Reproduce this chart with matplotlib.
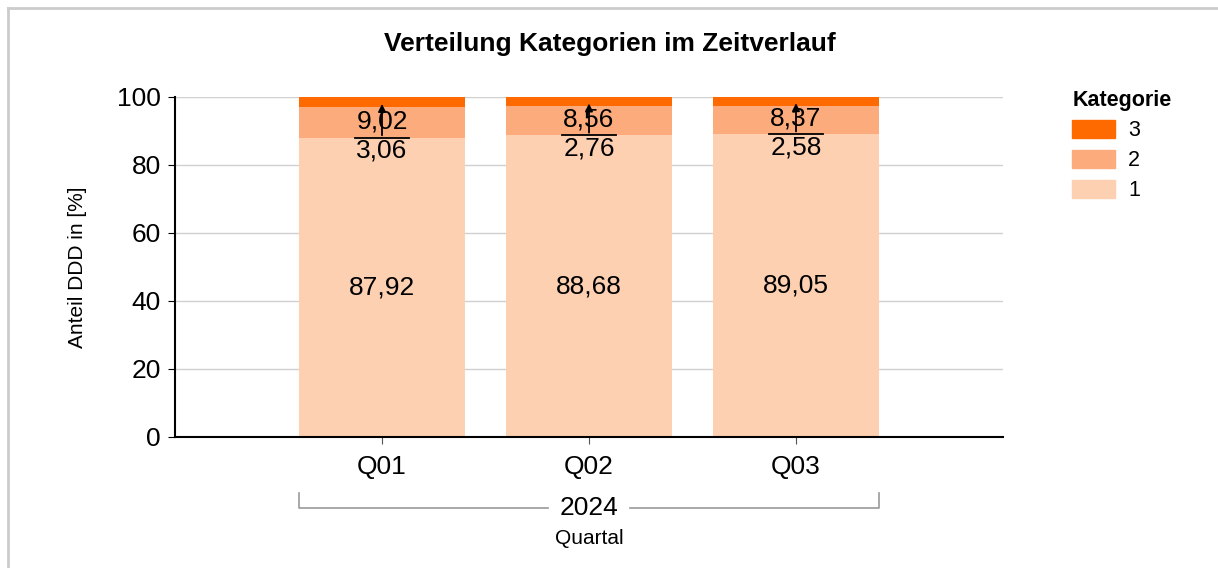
import matplotlib.pyplot as plt
from matplotlib.lines import Line2D
from matplotlib.patches import Patch

plt.rcParams['font.family'] = ['Liberation Sans', 'DejaVu Sans']

quartale = ['Q01', 'Q02', 'Q03']
jahr = '2024'
kat1 = [87.92, 88.68, 89.05]
kat2 = [9.02, 8.56, 8.37]
kat3 = [3.06, 2.76, 2.58]
farben = {'1': '#FDD0B2', '2': '#FCAC7C', '3': '#FF6A00'}

def fmt(v):
    return f'{v:.2f}'.replace('.', ',')

fig = plt.figure(figsize=(12.18, 5.68), dpi=100)
ax = fig.add_axes([175 / 1218, 1 - 437 / 568, 828 / 1218, 340 / 568])

x = list(range(len(quartale)))
b2 = [a for a in kat1]
b3 = [a + b for a, b in zip(kat1, kat2)]
ax.bar(x, kat1, width=0.8, color=farben['1'], zorder=2)
ax.bar(x, kat2, width=0.8, bottom=b2, color=farben['2'], zorder=2)
ax.bar(x, kat3, width=0.8, bottom=b3, color=farben['3'], zorder=2)

for i in x:
    ax.text(i, kat1[i] / 2, fmt(kat1[i]), ha='center', va='center', fontsize=19, zorder=4)
    ax.text(i, b2[i] + kat2[i] / 2 + 0.3, fmt(kat2[i]), ha='center', va='center', fontsize=19, zorder=4)
    # Kategorie 3 label below with leader line + arrow
    ax.text(i, b2[i] - 3.8, fmt(kat3[i]), ha='center', va='center', fontsize=19, zorder=4)
    ax.plot([i - 0.13, i + 0.13], [b2[i], b2[i]], color='black', lw=1.3, zorder=5)
    ax.annotate('', xy=(i, b3[i] + kat3[i] / 2 + 0.3), xytext=(i, b2[i]),
                arrowprops=dict(arrowstyle='-|>', color='black', lw=1.3, mutation_scale=11),
                zorder=5)

ax.set_xlim(-1, 3)
ax.set_ylim(0, 100)
ax.set_yticks([0, 20, 40, 60, 80, 100])
ax.set_xticks(x)
ax.set_xticklabels(quartale)
ax.tick_params(axis='both', labelsize=19, length=5)
ax.tick_params(axis='y', pad=5)
ax.tick_params(axis='x', pad=8, colors='#555555', labelcolor='black')
ax.grid(axis='y', color='#d0d0d0', lw=1, zorder=0)
for s in ['top', 'right']:
    ax.spines[s].set_visible(False)
ax.spines['left'].set_linewidth(1.5)
ax.spines['bottom'].set_linewidth(1.5)
ax.set_ylabel('Anteil DDD in [%]', fontsize=15, labelpad=22)

fig.text(610 / 1218, 1 - 44 / 568, 'Verteilung Kategorien im Zeitverlauf',
         ha='center', va='center', fontsize=19, fontweight='bold')

# Jahr-Klammer unter den Quartalen
trans = ax.get_xaxis_transform()
yb, yt = -0.21, -0.165
ax.plot([-0.4, -0.4, 0.8], [yt, yb, yb], color='#999999', lw=1.2, transform=trans, clip_on=False)
ax.plot([1.2, 2.4, 2.4], [yb, yb, yt], color='#999999', lw=1.2, transform=trans, clip_on=False)
ax.text(1, yb, jahr, ha='center', va='center', fontsize=19, transform=trans)
ax.text(1, -0.3, 'Quartal', ha='center', va='center', fontsize=15, transform=trans)

handles = [Patch(color=farben[k]) for k in ['3', '2', '1']]
leg = fig.legend(handles, ['3', '2', '1'], title='Kategorie', loc='upper left',
                 bbox_to_anchor=(1053 / 1218, 1 - 71 / 568), frameon=False, fontsize=15.5,
                 handlelength=2.0, handleheight=0.9, labelspacing=0.4, handletextpad=0.6)
leg.get_title().set_fontweight('bold')
leg.get_title().set_fontsize(15.5)
leg._legend_box.align = 'left'

# Rahmen oben/links
fig.add_artist(Line2D([8 / 1218, 1], [1 - 8 / 568, 1 - 8 / 568], color='#cccccc', lw=2))
fig.add_artist(Line2D([8 / 1218, 8 / 1218], [0, 1 - 8 / 568], color='#cccccc', lw=2))

fig.savefig('out.png', dpi=100)
